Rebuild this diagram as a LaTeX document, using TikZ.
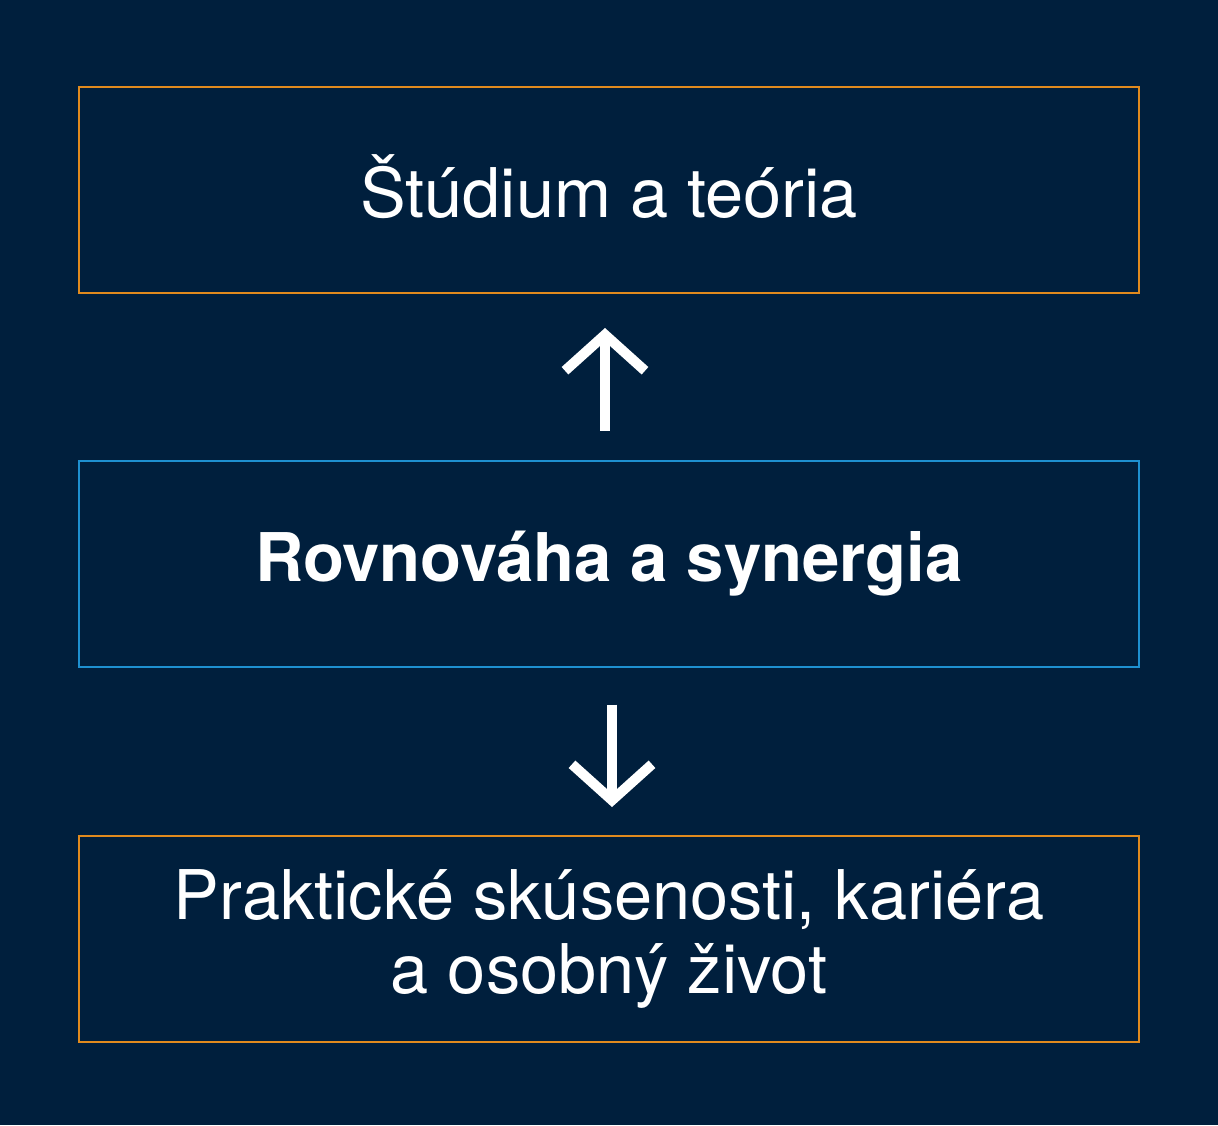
\documentclass[tikz,border=0pt]{standalone}
\usepackage{fontspec}
\setmainfont{TeX Gyre Heros}
\usepackage{tikz}
\usetikzlibrary{arrows.meta,positioning}

\definecolor{navy}{HTML}{001F3D}
\definecolor{amber}{HTML}{E08A1E}
\definecolor{sky}{HTML}{1E90D0}

\begin{document}
\begin{tikzpicture}[
	every node/.style = {text=white, font=\fontsize{19.5pt}{21.3pt}\selectfont},
	box/.style = {draw, line width=0.57pt, minimum width=10.6cm,
		minimum height=2.06cm, align=center, inner sep=0pt},
	side/.style = {box, draw=amber},
	core/.style = {box, draw=sky, font=\fontsize{19.1pt}{21.3pt}\selectfont\bfseries},
	flow/.style = {draw=white, line width=2.85pt,
		-{Straight Barb[length=0.36cm, width=0.8cm, line join=miter]}}
	]
	% background
	\fill [navy] (0,0) rectangle (12.18,-11.25);
	\useasboundingbox (0,0) rectangle (12.18,-11.25);

	\node [side, text depth=0.07cm] (theory) at (6.09,-1.90) {Štúdium a teória};
	\node [core] (balance) at (6.09,-5.635) {Rovnováha a synergia};
	\node [side] (practice) at (6.09,-9.39) {Praktické skúsenosti, kariéra\\a osobný život};

	\draw [flow, shorten <=0.29cm, shorten >=0.34cm]
		([xshift=-0.04cm]balance.north) -- ([xshift=-0.04cm]theory.south);
	\draw [flow, shorten <=0.37cm, shorten >=0.28cm]
		([xshift=0.03cm]balance.south) -- ([xshift=0.03cm]practice.north);
\end{tikzpicture}
\end{document}
